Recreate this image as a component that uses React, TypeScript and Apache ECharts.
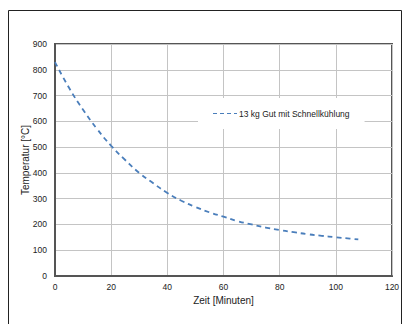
import React, { useEffect, useRef } from "react";
import * as echarts from "echarts";

const seriesName = "13 kg Gut mit Schnellkühlung";
const timeMinutes = [0, 5, 10, 15, 20, 25, 30, 35, 40, 45, 50, 55, 60, 65, 70, 75, 80, 85, 90, 95, 100, 105, 108];
const temperatureC = [830, 730, 645, 570, 505, 450, 400, 360, 322, 292, 268, 247, 230, 213, 200, 188, 178, 170, 162, 156, 150, 145, 142];
const xAxisTitle = "Zeit [Minuten]";
const yAxisTitle = "Temperatur [°C]";

export default function App() {
  const ref = useRef<HTMLDivElement>(null);
  useEffect(() => {
    if (!ref.current) return;
    const chart = echarts.init(ref.current, null, { renderer: "svg" });
    const font = "Liberation Sans, Arial, sans-serif";
    chart.setOption({
      animation: false,
      backgroundColor: "#ffffff",
      textStyle: { fontFamily: font },
      graphic: [
        {
          type: "rect",
          shape: { x: 8.5, y: 10.5, width: 393, height: 340 },
          style: { fill: "none", stroke: "#222", lineWidth: 1 },
          silent: true,
          z: 100,
        },
      ],
      grid: {
        left: 55,
        right: 12,
        top: 44,
        bottom: 48,
        show: true,
        borderColor: "#555",
        borderWidth: 2,
        backgroundColor: "transparent",
      },
      legend: {
        left: 198,
        top: 98,
        backgroundColor: "#ffffff",
        padding: [11, 15, 11, 15],
        itemWidth: 24,
        itemHeight: 9,
        itemGap: 5,
        textStyle: { fontSize: 8.5, color: "#222", fontFamily: font, padding: [0, 0, 0, -3] },
        data: [{ name: seriesName, icon: "path://M0,5 L4,5 L4,6.2 L0,6.2 Z M7,5 L11,5 L11,6.2 L7,6.2 Z M14,5 L18,5 L18,6.2 L14,6.2 Z M21,5 L24,5 L24,6.2 L21,6.2 Z" }],
        itemStyle: { color: "#4a7ebb" },
        z: 10,
      },
      xAxis: {
        type: "value",
        min: 0,
        max: 120,
        interval: 20,
        name: xAxisTitle,
        nameLocation: "middle",
        nameGap: 17,
        nameTextStyle: { fontSize: 10, color: "#222" },
        axisLine: { show: true, onZero: false, lineStyle: { color: "#555", width: 2 } },
        axisTick: { show: false },
        axisLabel: { fontSize: 8.5, color: "#222", margin: 6 },
        splitLine: { show: true, lineStyle: { color: "#c4c4c4", width: 1 } },
      },
      yAxis: {
        type: "value",
        min: 0,
        max: 900,
        interval: 100,
        name: yAxisTitle,
        nameLocation: "middle",
        nameGap: 25,
        nameMoveOverlap: false,
        nameTextStyle: { fontSize: 10, color: "#222" },
        axisLine: { show: true, lineStyle: { color: "#555", width: 2 } },
        axisTick: { show: false },
        axisLabel: { fontSize: 8.5, color: "#222", margin: 8 },
        splitLine: { show: true, lineStyle: { color: "#c4c4c4", width: 1 } },
      },
      series: [
        {
          name: seriesName,
          type: "line",
          smooth: true,
          symbol: "none",
          data: timeMinutes.map((t, i) => [t, temperatureC[i]]),
          lineStyle: { color: "#4a7ebb", width: 1.8, type: [5, 4] },
          itemStyle: { color: "#4a7ebb" },
          z: 5,
        },
      ],
    });
    return () => chart.dispose();
  }, []);
  return (
    <div
      ref={ref}
      style={{ position: "absolute", left: 0, top: 0, width: 404, height: 324 }}
    />
  );
}
